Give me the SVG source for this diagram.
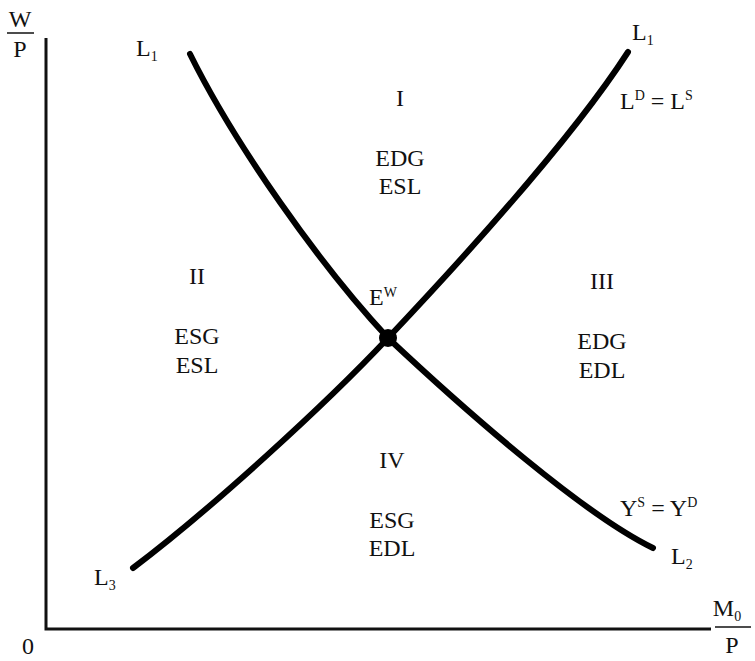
<svg xmlns="http://www.w3.org/2000/svg" width="755" height="661" viewBox="0 0 755 661">
<style>
text{font-family:"Liberation Serif","Times New Roman",serif;font-size:24px;fill:#111;}
.m{text-anchor:middle;}
.sub{font-size:14px;}
.ax{stroke:#111;stroke-width:3;fill:none;}
.cv{stroke:#000;stroke-width:6;fill:none;stroke-linecap:round;}
</style>
<rect width="755" height="661" fill="#fff"/>
<g id="axes">
<path class="ax" d="M46,38 V629 H711"/>
<text x="28" y="654" class="m">0</text>
<g id="ylabel"><text x="20" y="27" class="m">W</text><line x1="7" y1="33" x2="34" y2="33" stroke="#111" stroke-width="1.5"/><text x="20" y="57" class="m">P</text></g>
<g id="xlabel"><text x="727" y="616" class="m">M<tspan class="sub" dy="5">0</tspan></text><line x1="715" y1="627" x2="751" y2="627" stroke="#111" stroke-width="1.5"/><text x="732" y="653" class="m">P</text></g>
</g>
<g id="connectors">
<path id="L1L2" class="cv" d="M190,54 C235,145 320,265 388,338 C470,415 585,515 653,548"/>
<path id="L3L1" class="cv" d="M133,568 C210,510 325,405 388,338 C455,267 568,145 628,52"/>
</g>
<g id="EW">
<circle cx="388" cy="338" r="9" fill="#000"/>
<text x="383" y="305" class="m">E<tspan class="sub" dy="-8">W</tspan></text>
</g>
<g id="regionI"><text x="400" y="106" class="m">I</text><text x="400" y="166" class="m">EDG</text><text x="400" y="194" class="m">ESL</text></g>
<g id="regionII"><text x="197" y="284" class="m">II</text><text x="197" y="344" class="m">ESG</text><text x="197" y="373" class="m">ESL</text></g>
<g id="regionIII"><text x="602" y="289" class="m">III</text><text x="602" y="349" class="m">EDG</text><text x="602" y="378" class="m">EDL</text></g>
<g id="regionIV"><text x="392" y="468" class="m">IV</text><text x="392" y="528" class="m">ESG</text><text x="392" y="556" class="m">EDL</text></g>
<g id="labelL1left"><text x="136" y="56">L<tspan class="sub" dy="5">1</tspan></text></g>
<g id="labelL1right"><text x="632" y="40">L<tspan class="sub" dy="5">1</tspan></text></g>
<g id="labelLDLS"><text x="620" y="109">L<tspan class="sub" dy="-9">D</tspan><tspan dy="9"> = L</tspan><tspan class="sub" dy="-9">S</tspan></text></g>
<g id="labelYSYD"><text x="620" y="516">Y<tspan class="sub" dy="-9">S</tspan><tspan dy="9"> = Y</tspan><tspan class="sub" dy="-9">D</tspan></text></g>
<g id="labelL2"><text x="671" y="564">L<tspan class="sub" dy="5">2</tspan></text></g>
<g id="labelL3"><text x="94" y="585">L<tspan class="sub" dy="5">3</tspan></text></g>
</svg>
